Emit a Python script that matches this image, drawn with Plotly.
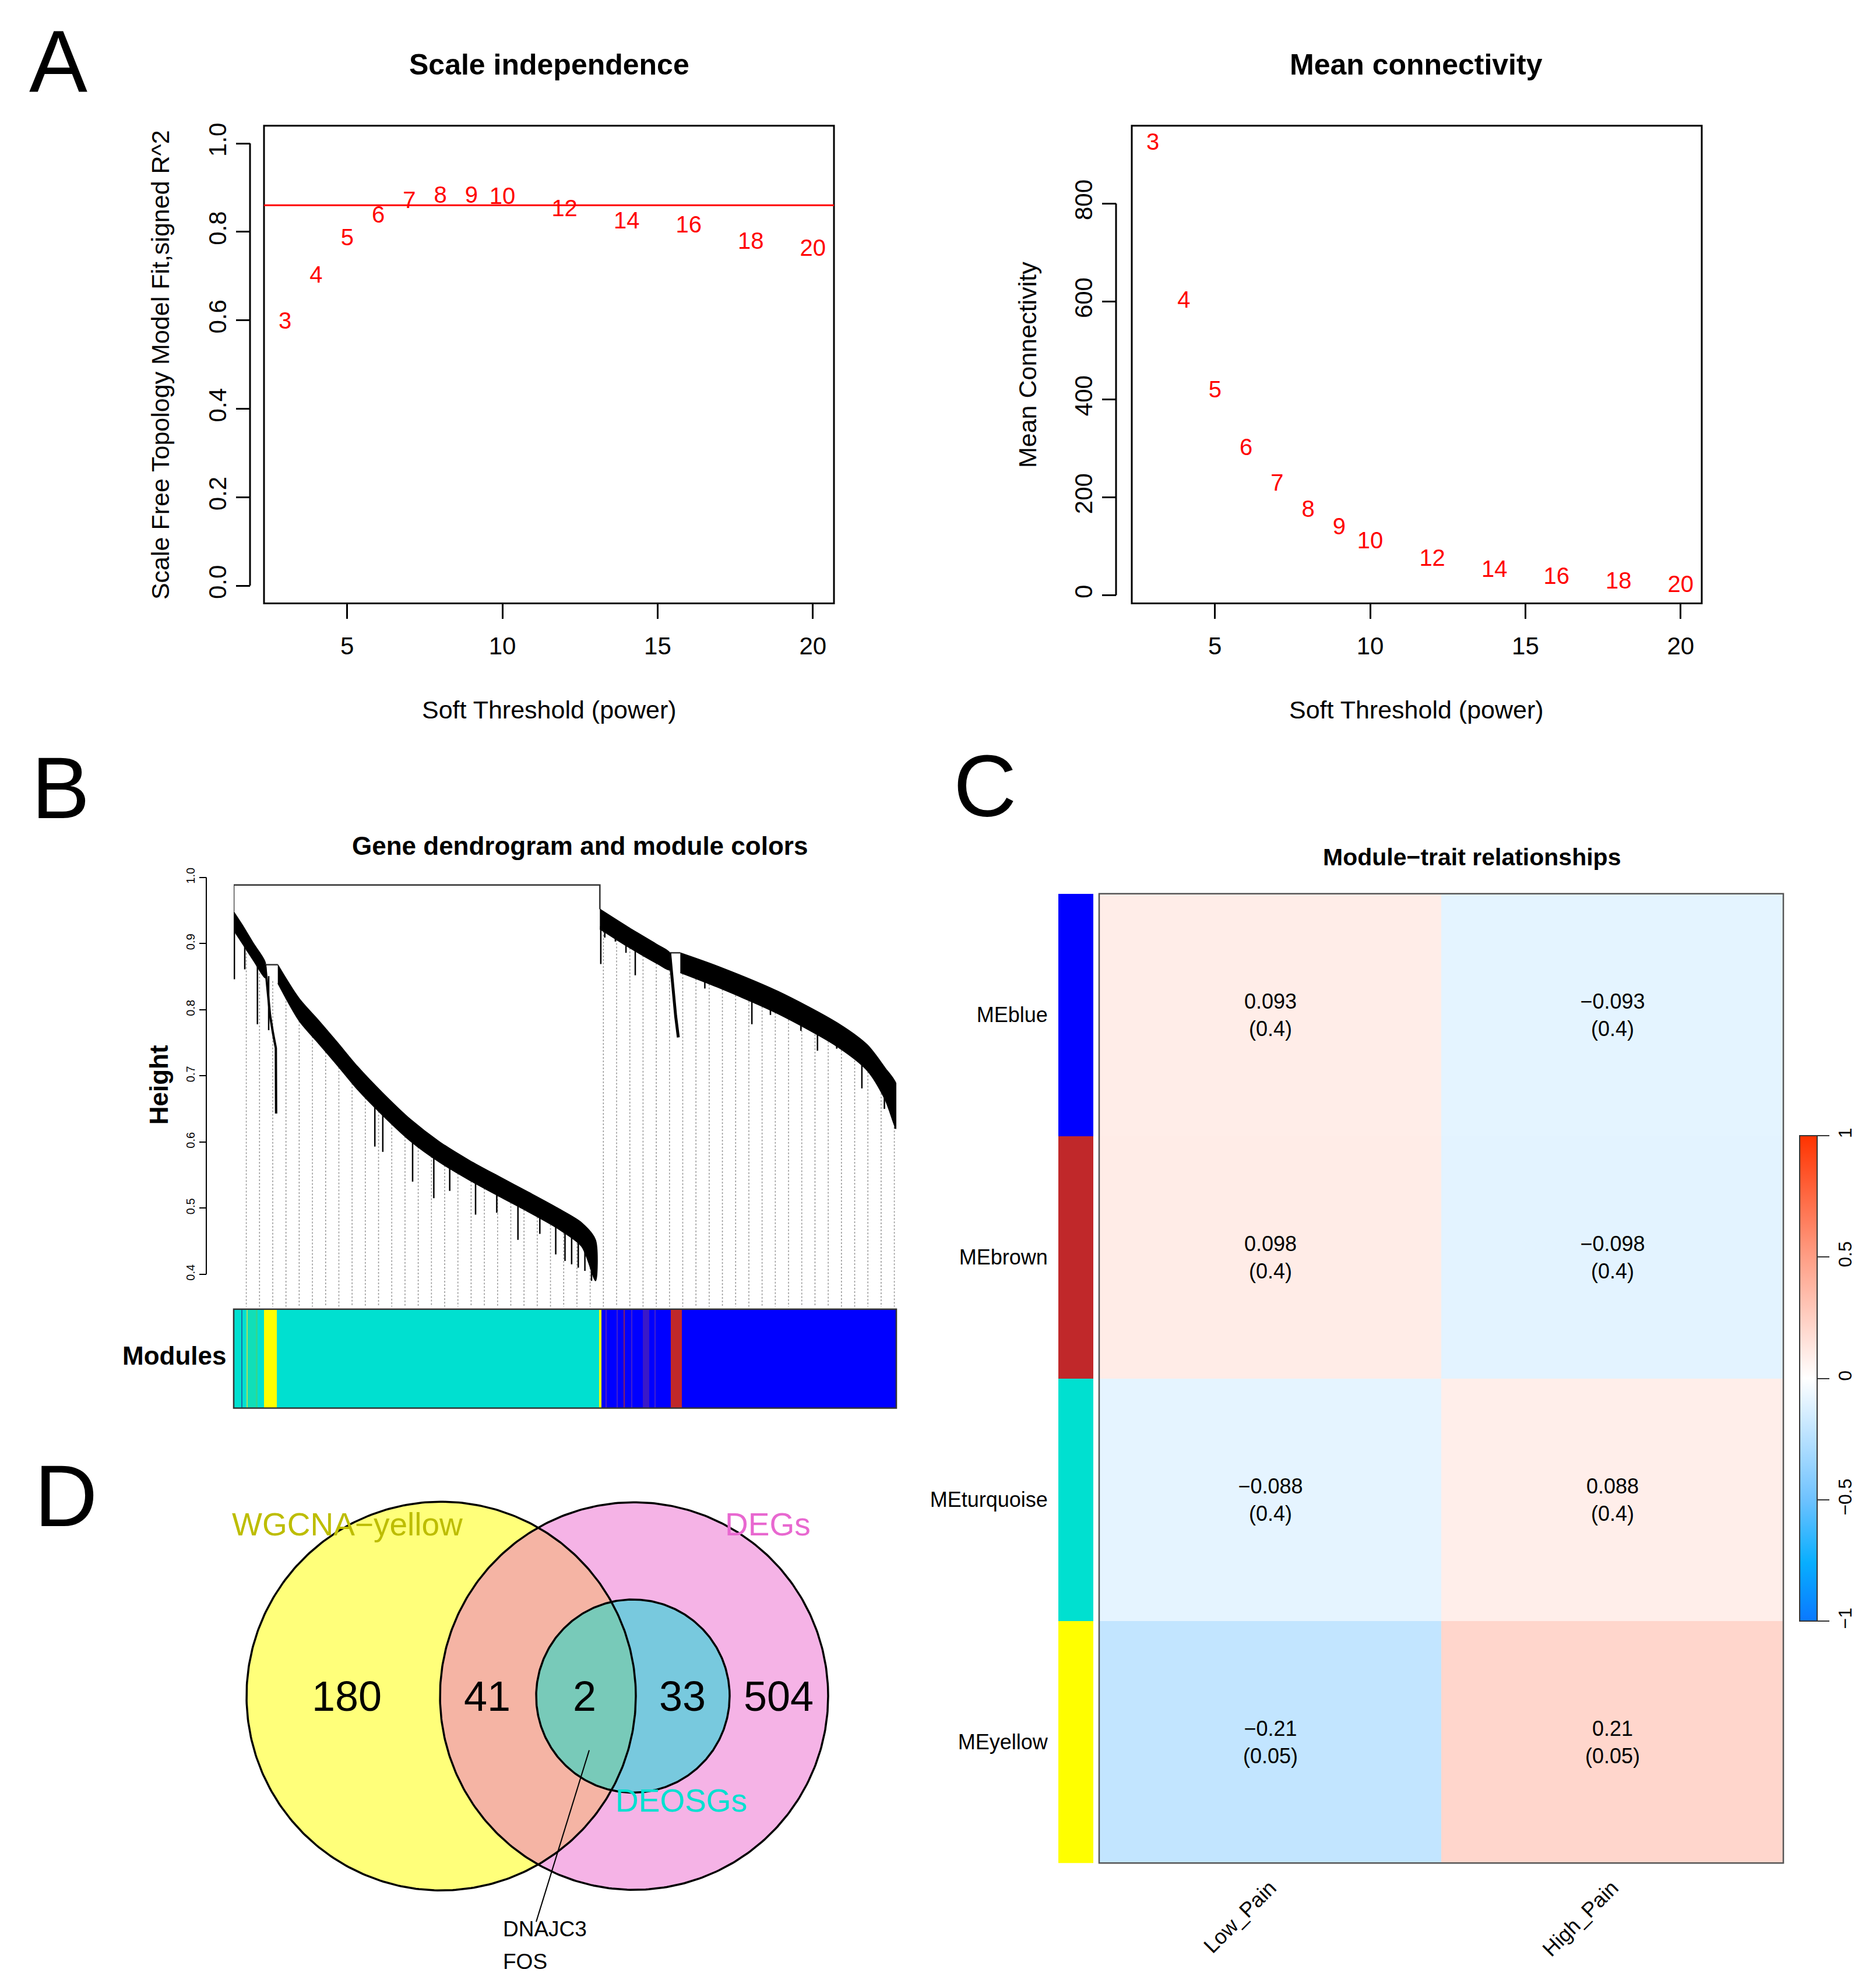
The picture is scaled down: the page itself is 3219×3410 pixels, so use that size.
import numpy as np
import plotly.graph_objects as go

W, H = 3219, 3410
FONT = "Liberation Sans, Arial, Helvetica, sans-serif"

# ---------------- Panel A data ----------------
powers = [3, 4, 5, 6, 7, 8, 9, 10, 12, 14, 16, 18, 20]
scale_free_r2 = [0.594, 0.698, 0.783, 0.834, 0.867, 0.879, 0.879, 0.876, 0.848, 0.821, 0.812, 0.775, 0.759]
mean_connectivity = [922, 599, 416, 298, 225, 172, 136, 108, 72, 49, 35, 26, 19]
r2_cutoff = 0.86

# ---------------- Panel B data (gene order fraction vs merge height) ----------------
dend_a_x = [0.0, 0.015, 0.030, 0.0475]
dend_a_top = [0.948, 0.925, 0.900, 0.872]
dend_a_bot = [0.920, 0.897, 0.874, 0.848]
dend_b_x = [0.0666, 0.0988, 0.128, 0.157, 0.187, 0.225, 0.267, 0.311, 0.356, 0.400, 0.445, 0.489, 0.525, 0.546]
dend_b_top = [0.868, 0.817, 0.784, 0.750, 0.714, 0.674, 0.634, 0.600, 0.572, 0.548, 0.524, 0.500, 0.478, 0.452]
dend_b_bot = [0.840, 0.783, 0.749, 0.715, 0.679, 0.640, 0.601, 0.569, 0.542, 0.518, 0.494, 0.469, 0.442, 0.390]
dend_c_x = [0.5526, 0.595, 0.640, 0.658]
dend_c_top = [0.952, 0.925, 0.898, 0.886]
dend_c_bot = [0.922, 0.895, 0.869, 0.860]
dend_d_x = [0.674, 0.730, 0.821, 0.911, 0.956, 0.983, 1.0]
dend_d_top = [0.886, 0.866, 0.828, 0.780, 0.747, 0.712, 0.687]
dend_d_bot = [0.856, 0.834, 0.794, 0.744, 0.708, 0.664, 0.620]
top_merge_h = 0.9886
left_merge_h = 0.868
right_merge_h = 0.886
chain_left_x = [0.0475, 0.0519, 0.0548, 0.0592, 0.0636, 0.0640]
chain_left_h = [0.868, 0.827, 0.792, 0.765, 0.742, 0.643]
chain_right_x = [0.658, 0.662, 0.667, 0.671]
chain_right_h = [0.886, 0.840, 0.790, 0.758]
spike_x = [0.001, 0.0167, 0.0358, 0.0528, 0.213, 0.225, 0.27, 0.302, 0.326, 0.365, 0.397, 0.429,
           0.462, 0.486, 0.50, 0.51, 0.52, 0.53, 0.54,
           0.554, 0.56, 0.576, 0.592, 0.606, 0.711, 0.782, 0.81, 0.856, 0.881, 0.91, 0.948,
           0.962, 0.982, 0.998]
spike_bottom = [0.846, 0.861, 0.778, 0.769, 0.593, 0.585, 0.54, 0.515, 0.526, 0.49, 0.493, 0.452,
                0.461, 0.43, 0.42, 0.415, 0.41, 0.405, 0.39,
                0.869, 0.909, 0.903, 0.886, 0.852, 0.832, 0.778, 0.792, 0.768, 0.738, 0.741, 0.681,
                0.704, 0.65, 0.62]
guide_count = 50

module_x0 = [0.0, 0.001, 0.046, 0.065, 0.5515, 0.5554, 0.6592, 0.6767,
             0.011, 0.019, 0.021, 0.033, 0.561, 0.578, 0.588, 0.600, 0.617, 0.635]
module_x1 = [0.001, 0.046, 0.065, 0.5515, 0.5554, 0.6592, 0.6767, 1.0,
             0.013, 0.021, 0.033, 0.036, 0.563, 0.580, 0.5905, 0.602, 0.627, 0.637]
module_col = ["#0000FF", "#00E0D0", "#FFFF00", "#00E0D0", "#FFFF00", "#0000FF", "#C0282A", "#0000FF",
              "#1A6FA8", "#A8E060", "#10DFB8", "#30D890", "#5020C0", "#4020D0", "#8A2060", "#4020D0",
              "#3A18C8", "#4020D0"]

# ---------------- Panel C data ----------------
modules = ["MEblue", "MEbrown", "MEturquoise", "MEyellow"]
module_colors = ["#0000FF", "#C0282A", "#00E0D0", "#FFFF00"]
traits = ["Low_Pain", "High_Pain"]
cor = [[0.093, -0.093], [0.098, -0.098], [-0.088, 0.088], [-0.21, 0.21]]
pval = [[0.4, 0.4], [0.4, 0.4], [0.4, 0.4], [0.05, 0.05]]

# ---------------- Panel D data ----------------
venn_sets = ["WGCNA\u2212yellow", "DEGs", "DEOSGs"]
venn_set_colors = ["#BDBD00", "#E868D0", "#00E0D0"]
venn_counts = [180, 41, 2, 33, 504]
venn_genes = ["DNAJC3", "FOS"]


def px(x):
    return x / W


def py(y):
    return 1 - y / H


def ann(text, x, y, size, bold=False, angle=0, color="black", xanchor="center", yanchor="middle"):
    return dict(text=f"<b>{text}</b>" if bold else text, x=px(x), y=py(y), xref="paper", yref="paper",
                showarrow=False, font=dict(family=FONT, size=size, color=color), textangle=angle,
                xanchor=xanchor, yanchor=yanchor)


fig = go.Figure()
annotations = []
shapes = []

# ================= Panel A =================
fig.add_trace(go.Scatter(x=powers, y=scale_free_r2, mode="text", text=[str(p) for p in powers],
                         textfont=dict(family=FONT, size=40, color="red"), xaxis="x", yaxis="y"))
fig.add_trace(go.Scatter(x=powers, y=mean_connectivity, mode="text", text=[str(p) for p in powers],
                         textfont=dict(family=FONT, size=40, color="red"), xaxis="x2", yaxis="y2"))

axA = dict(range=[2.32, 20.68], tickvals=[5, 10, 15, 20], ticks="outside", ticklen=26, tickwidth=3,
           tickcolor="black", showline=False, showgrid=False, zeroline=False, ticklabelstandoff=10,
           tickfont=dict(family=FONT, size=42, color="black"))
ydomA = [py(1032), py(211)]
fig.update_layout(
    xaxis=dict(domain=[px(453), px(1431)], anchor="y", **axA),
    yaxis=dict(domain=ydomA, range=[-0.04, 1.04], anchor="free", position=px(429),
               tickvals=[0, 0.2, 0.4, 0.6, 0.8, 1.0], ticktext=["0.0", "0.2", "0.4", "0.6", "0.8", "1.0"],
               tickangle=-90, ticks="outside", ticklen=24, tickwidth=3, tickcolor="black",
               showgrid=False, zeroline=False, showline=False,
               tickfont=dict(family=FONT, size=42, color="black")),
    xaxis2=dict(domain=[px(1942), px(2920)], anchor="y2", **axA),
    yaxis2=dict(domain=ydomA, range=[-16.6, 959], anchor="free", position=px(1915),
                tickvals=[0, 200, 400, 600, 800], tickangle=-90, ticks="outside", ticklen=24, tickwidth=3,
                tickcolor="black", showgrid=False, zeroline=False, showline=False,
                tickfont=dict(family=FONT, size=42, color="black")),
)
for xr, yr, pos, y1 in [("x", "y", 429, 1), ("x2", "y2", 1915, 800)]:
    shapes.append(dict(type="rect", xref=f"{xr} domain", yref=f"{yr} domain", x0=0, x1=1, y0=0, y1=1,
                       line=dict(color="black", width=3)))
    shapes.append(dict(type="line", xref="paper", yref=yr, x0=px(pos), x1=px(pos), y0=0, y1=y1,
                       line=dict(color="black", width=3)))
shapes.append(dict(type="line", xref="x domain", yref="y", x0=0, x1=1, y0=r2_cutoff, y1=r2_cutoff,
                   line=dict(color="red", width=3)))

annotations += [
    ann("A", 100, 100, 150),
    ann("Scale independence", 942, 106, 50, bold=True),
    ann("Mean connectivity", 2430, 106, 50, bold=True),
    ann("Soft Threshold (power)", 942, 1215, 43),
    ann("Soft Threshold (power)", 2430, 1215, 43),
    ann("Scale Free Topology Model Fit,signed R^2", 275, 622, 43, angle=-90),
    ann("Mean Connectivity", 1763, 622, 43, angle=-90),
]

# ================= Panel B =================
y_bottom = 0.3507


def band(xs, tops, bots):
    return go.Scatter(x=list(xs) + list(xs)[::-1], y=list(tops) + list(bots)[::-1], mode="lines",
                      fill="toself", fillcolor="black",
                      line=dict(color="black", width=1.5, shape="spline", smoothing=0.8),
                      xaxis="x3", yaxis="y3", hoverinfo="skip")


env_x = dend_a_x + dend_b_x + dend_c_x + dend_d_x
env_bot = dend_a_bot + dend_b_bot + dend_c_bot + dend_d_bot

# guides (dotted grey)
guides = np.linspace(0.019, 0.997, guide_count)
gx, gy = [], []
for g in guides:
    gx += [g, g, None]
    gy += [float(np.interp(g, env_x, env_bot)), y_bottom, None]
fig.add_trace(go.Scatter(x=gx, y=gy, mode="lines", line=dict(color="#9A9A9A", width=1.6, dash="dot"),
                         xaxis="x3", yaxis="y3", hoverinfo="skip"))

for xs, t, b in [(dend_a_x, dend_a_top, dend_a_bot), (dend_b_x, dend_b_top, dend_b_bot),
                 (dend_c_x, dend_c_top, dend_c_bot), (dend_d_x, dend_d_top, dend_d_bot)]:
    fig.add_trace(band(xs, t, b))

# merges
mx = [0, 0, dend_c_x[0], dend_c_x[0], None,
      dend_a_x[-1], dend_b_x[0], None, dend_c_x[-1], dend_d_x[0]]
my = [dend_a_top[0], top_merge_h, top_merge_h, dend_c_top[0], None,
      left_merge_h, left_merge_h, None, right_merge_h, right_merge_h]
fig.add_trace(go.Scatter(x=mx, y=my, mode="lines", line=dict(color="#333333", width=2.5),
                         xaxis="x3", yaxis="y3", hoverinfo="skip"))
fig.add_trace(go.Scatter(x=chain_left_x, y=chain_left_h, mode="lines", line=dict(color="black", width=4),
                         xaxis="x3", yaxis="y3", hoverinfo="skip"))
fig.add_trace(go.Scatter(x=chain_right_x, y=chain_right_h, mode="lines", line=dict(color="black", width=5),
                         xaxis="x3", yaxis="y3", hoverinfo="skip"))
sx, sy = [], []
for xv, bv in zip(spike_x, spike_bottom):
    sx += [xv, xv, None]
    sy += [float(np.interp(xv, env_x, env_bot)) + 0.005, bv, None]
fig.add_trace(go.Scatter(x=sx, y=sy, mode="lines", line=dict(color="black", width=2.5),
                         xaxis="x3", yaxis="y3", hoverinfo="skip"))

fig.update_layout(
    xaxis3=dict(domain=[px(401), px(1538)], range=[0, 1], visible=False, anchor="y3"),
    yaxis3=dict(domain=[py(2241), py(1480)], range=[y_bottom, 1.0202], anchor="free", position=px(354),
                tickvals=[0.4, 0.5, 0.6, 0.7, 0.8, 0.9, 1.0],
                ticktext=["0.4", "0.5", "0.6", "0.7", "0.8", "0.9", "1.0"], tickangle=-90,
                ticks="outside", ticklen=12, tickwidth=2, tickcolor="black", showgrid=False,
                zeroline=False, showline=False, tickfont=dict(family=FONT, size=20, color="black")),
)
shapes.append(dict(type="line", xref="paper", yref="y3", x0=px(354), x1=px(354), y0=0.4, y1=1.0,
                   line=dict(color="black", width=2)))

# module colour bar
mx0 = np.array(module_x0)
mx1 = np.array(module_x1)
fig.add_trace(go.Bar(x=(mx0 + mx1) / 2, y=[1] * len(mx0), width=mx1 - mx0, base=0,
                     marker=dict(color=module_col, line=dict(width=0)), xaxis="x4", yaxis="y4",
                     hoverinfo="skip"))
fig.update_layout(
    xaxis4=dict(domain=[px(401), px(1538)], range=[0, 1], visible=False, anchor="y4"),
    yaxis4=dict(domain=[py(2415), py(2245)], range=[0, 1], visible=False, anchor="x4"),
)
shapes.append(dict(type="rect", xref="x4 domain", yref="y4 domain", x0=0, x1=1, y0=0, y1=1,
                   line=dict(color="#333333", width=2.5)))
annotations += [
    ann("B", 104, 1349, 150),
    ann("Gene dendrogram and module colors", 995, 1449, 44, bold=True),
    ann("Height", 272, 1860, 44, bold=True, angle=-90),
    ann("Modules", 390, 2325, 44, bold=True, xanchor="right"),
]

# ================= Panel C =================
def fmt(v):
    return f"{v:g}".replace("-", "\u2212")


cell_text = [[f"{fmt(c)}<br>({fmt(p)})" for c, p in zip(rc, rp)] for rc, rp in zip(cor, pval)]
colorscale = [[0.0, "#0A78FF"], [0.12, "#08AEFF"], [0.25, "#6EC2FF"], [0.5, "#FFFFFF"],
              [0.75, "#FF9E85"], [1.0, "#FF3300"]]
fig.add_trace(go.Heatmap(z=cor, x=traits, y=modules, text=cell_text, texttemplate="%{text}",
                         textfont=dict(family=FONT, size=36, color="black"), colorscale=colorscale,
                         zmin=-1, zmax=1, xaxis="x5", yaxis="y5", hoverinfo="skip",
                         colorbar=dict(x=px(3078), xanchor="left", y=py(2364), yanchor="middle",
                                       len=854 / H, lenmode="fraction", thickness=30,
                                       thicknessmode="pixels", outlinewidth=2, outlinecolor="#333333",
                                       tickvals=[-1, -0.5, 0, 0.5, 1],
                                       ticktext=["\u22121", "\u22120.5", "0", "0.5", "1"],
                                       ticks="outside", ticklen=20, tickwidth=2, tickcolor="#333333",
                                       tickangle=-90,
                                       tickfont=dict(family=FONT, size=32, color="black"))))
fig.add_trace(go.Bar(x=[1] * len(modules), y=modules, orientation="h", width=1,
                     marker=dict(color=module_colors, line=dict(width=0)), xaxis="x6", yaxis="y6",
                     hoverinfo="skip"))
ydomC = [py(3197), py(1531)]
fig.update_layout(
    xaxis5=dict(domain=[px(1886), px(3060)], anchor="y5", tickangle=-45, ticks="outside",
                ticklen=6, tickcolor="rgba(0,0,0,0)", showgrid=False, zeroline=False,
                tickfont=dict(family=FONT, size=36, color="black")),
    yaxis5=dict(domain=ydomC, anchor="x5", autorange="reversed", showticklabels=False,
                showgrid=False, zeroline=False),
    xaxis6=dict(domain=[px(1816), px(1876)], anchor="y6", range=[0, 1], visible=False),
    yaxis6=dict(domain=ydomC, anchor="x6", autorange="reversed", ticks="outside", ticklen=10,
                tickcolor="rgba(0,0,0,0)", showgrid=False, zeroline=False, showline=False,
                tickfont=dict(family=FONT, size=36, color="black")),
)
shapes.append(dict(type="rect", xref="x5 domain", yref="y5 domain", x0=0, x1=1, y0=0, y1=1,
                   line=dict(color="#555555", width=2.5)))
annotations += [
    ann("C", 1690, 1346, 150),
    ann("Module\u2212trait relationships", 2525, 1468, 41, bold=True),
]

# ================= Panel D (Venn) =================
def circle_pts(cx, cy, r, n=400):
    t = np.linspace(0, 2 * np.pi, n)
    return cx + r * np.cos(t), cy + r * np.sin(t)


def lens_pts(c1, c2, n=200):
    (x1, y1, r1), (x2, y2, r2) = c1, c2
    d = x2 - x1
    a = (d * d - r2 * r2 + r1 * r1) / (2 * d)
    h = np.sqrt(r1 * r1 - a * a)
    t1 = np.arctan2(h, a)
    t2 = np.arctan2(h, d - a)
    a1 = np.linspace(-t1, t1, n)
    a2 = np.linspace(np.pi - t2, np.pi + t2, n)
    xs = np.concatenate([x1 + r1 * np.cos(a1), x2 + r2 * np.cos(a2)])
    ys = np.concatenate([y1 + r1 * np.sin(a1), y2 + r2 * np.sin(a2)])
    return xs, ys


c_yellow = (757, 2910, 334)
c_pink = (1088, 2910, 333)
c_cyan = (1086, 2910, 166)
fills = [
    (circle_pts(*c_yellow), "#FFFF7A"),
    (circle_pts(*c_pink), "#F5B3E6"),
    (lens_pts(c_yellow, c_pink), "#F5B4A4"),
    (circle_pts(*c_cyan), "#78C9DE"),
    (lens_pts(c_yellow, c_cyan), "#78CAB9"),
]
for (xs, ys), col in fills:
    fig.add_trace(go.Scatter(x=xs, y=ys, mode="lines", fill="toself", fillcolor=col,
                             line=dict(width=0, color=col), xaxis="x7", yaxis="y7", hoverinfo="skip"))
for c in [c_yellow, c_pink, c_cyan]:
    xs, ys = circle_pts(*c)
    fig.add_trace(go.Scatter(x=xs, y=ys, mode="lines", line=dict(width=3.5, color="black"),
                             xaxis="x7", yaxis="y7", hoverinfo="skip"))
fig.add_trace(go.Scatter(x=[1011, 920], y=[3003, 3298], mode="lines", line=dict(width=2, color="black"),
                         xaxis="x7", yaxis="y7", hoverinfo="skip"))
fig.update_layout(
    xaxis7=dict(domain=[0, px(1560)], range=[0, 1560], visible=False, anchor="y7"),
    yaxis7=dict(domain=[0, py(2450)], range=[H, 2450], visible=False, anchor="x7"),
)
count_x = [595, 836, 1003, 1171, 1336]
for cnt, cx in zip(venn_counts, count_x):
    annotations.append(ann(str(cnt), cx, 2910, 72))
set_label_pos = [(596, 2615), (1317, 2615), (1169, 3090)]
for name, col, (lx, ly) in zip(venn_sets, venn_set_colors, set_label_pos):
    annotations.append(ann(name, lx, ly, 55, color=col))
for i, gname in enumerate(venn_genes):
    annotations.append(ann(gname, 861, 3310 + 56 * i, 37, xanchor="left"))
annotations.append(ann("D", 113, 2566, 150))

fig.update_layout(width=W, height=H, margin=dict(l=0, r=0, t=0, b=0), paper_bgcolor="white",
                  plot_bgcolor="white", showlegend=False, bargap=0, annotations=annotations,
                  shapes=shapes, font=dict(family=FONT, color="black"))
fig.write_html("out.html", config={"displayModeBar": False},
               post_script="document.body.style.margin='0';document.body.style.overflow='hidden';")
